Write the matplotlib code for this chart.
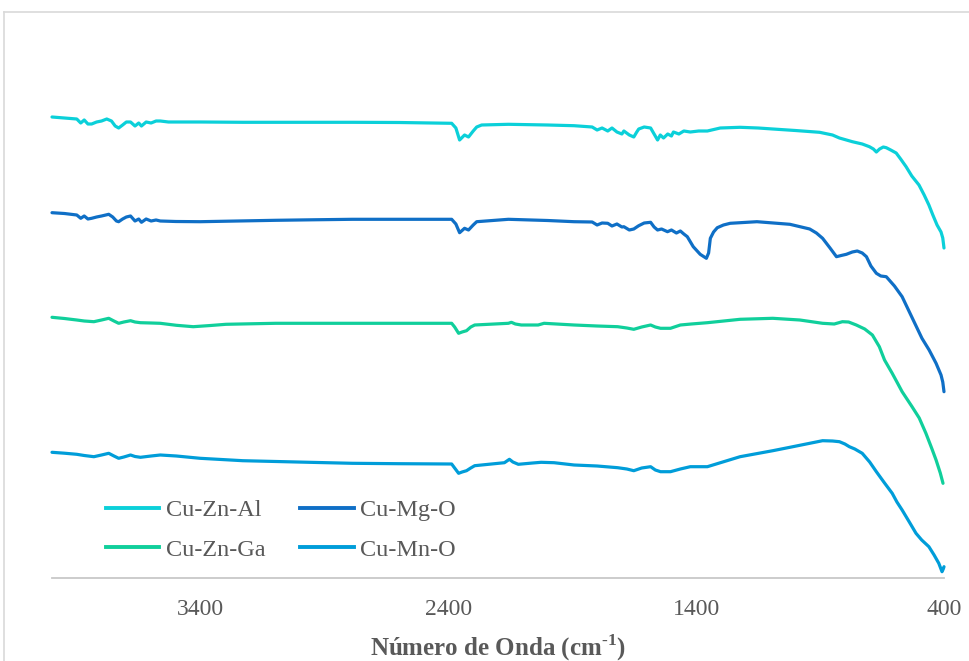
import matplotlib
matplotlib.use("Agg")
import matplotlib.pyplot as plt
from matplotlib.lines import Line2D

# FTIR spectra (arbitrary intensity units), wavenumber in cm-1
wn_znal = [4000, 3950, 3900, 3884, 3870, 3855, 3840, 3820, 3800, 3779, 3760, 3745, 3731, 3715,
           3700, 3683, 3665, 3650, 3639, 3620, 3600, 3580, 3563, 3530, 3498, 3400, 3230, 3000,
           2788, 2600, 2387, 2370, 2355, 2335, 2319, 2300, 2286, 2266, 2158, 2000, 1893, 1820,
           1800, 1780, 1757, 1740, 1720, 1700, 1692, 1670, 1652, 1640, 1632, 1610, 1584, 1570,
           1556, 1545, 1532, 1515, 1500, 1492, 1470, 1450, 1424, 1390, 1355, 1303, 1223, 1150,
           1091, 1000, 902, 850, 822, 770, 730, 701, 685, 673, 660, 645, 633, 615, 593, 575,
           553, 530, 501, 480, 461, 445, 428, 412, 405, 400]
y_znal = [461, 460, 459, 455, 458, 454, 454, 456, 457, 459, 457, 452, 450, 453,
          456, 456, 452, 455, 452, 456, 455, 457, 457, 456, 456, 456, 455.7, 455.7,
          455.7, 455.5, 454.7, 450, 438, 443, 441, 447, 451, 453, 453.7, 453, 452.3, 451,
          448, 450, 447, 450, 446, 444, 447, 443, 441, 446, 449, 451, 450, 444,
          438, 443, 440, 444, 442, 446, 444, 447, 446, 447, 447, 450, 450.7, 450,
          449, 447.5, 445.7, 443, 440, 436.3, 434, 431.3, 429, 426, 429, 431, 430.3, 428, 425, 419,
          411.3, 402, 393, 383, 373, 363, 353, 346, 340, 330]

wn_mgo = [4000, 3950, 3900, 3884, 3870, 3855, 3840, 3820, 3800, 3771, 3755, 3740, 3731, 3715,
          3700, 3683, 3665, 3650, 3639, 3620, 3600, 3580, 3563, 3500, 3402, 3250, 3097, 2950,
          2788, 2600, 2387, 2370, 2355, 2335, 2319, 2300, 2286, 2158, 2000, 1893, 1820, 1800,
          1780, 1757, 1740, 1720, 1700, 1692, 1670, 1652, 1640, 1632, 1610, 1584, 1570, 1556,
          1540, 1516, 1500, 1480, 1464, 1450, 1436, 1412, 1384, 1359, 1350, 1343, 1330, 1315,
          1290, 1263, 1155, 1022, 942, 915, 890, 860, 834, 815, 794, 770, 750, 730, 713, 695,
          673, 655, 633, 600, 569, 530, 489, 460, 432, 412, 405, 400]
y_mgo = [365.3, 364.5, 363, 359.7, 362, 359, 359.7, 361, 362, 363.7, 361, 357, 356.3, 359,
         361, 362, 357, 359, 355.7, 359, 357, 358, 357, 356.5, 356.3, 357, 357.7, 358.2,
         358.7, 358.7, 358.7, 354, 345.3, 349.7, 348, 353, 356.3, 358.7, 357.5, 356.3, 356, 353,
         355, 354.7, 352, 354, 351, 351.3, 348, 349, 351, 352.3, 355, 355.7, 351, 348,
         349, 346.3, 348, 345, 347, 344, 341.3, 331.3, 323.7, 319.7, 325, 339.7, 346, 350.3,
         353, 354.7, 356.3, 353.7, 349, 345, 339.7, 330, 321.3, 322.5, 323.7, 326, 327, 325, 321.3, 312,
         304.7, 302, 301.3, 292, 281.3, 261, 239.7, 228, 214.7, 203, 196, 186.3]

wn_znga = [4000, 3950, 3900, 3870, 3831, 3800, 3771, 3750, 3731, 3710, 3683, 3665, 3643, 3600,
           3563, 3498, 3430, 3360, 3298, 3200, 3097, 2950, 2788, 2600, 2387, 2375, 2359, 2345,
           2327, 2310, 2294, 2158, 2146, 2130, 2106, 2038, 2014, 1893, 1800, 1717, 1680, 1652,
           1620, 1584, 1565, 1544, 1504, 1464, 1420, 1355, 1223, 1091, 982, 890, 843, 810,
           785, 754, 720, 689, 661, 640, 609, 590, 569, 529, 500, 473, 450, 432, 415, 404]
y_znga = [260.7, 259.5, 258, 257, 256.3, 258, 259.7, 257, 254.7, 256, 257.3, 256, 255.3, 255,
          254.7, 252.7, 251.3, 252.5, 253.7, 254.2, 254.7, 254.7, 254.7, 254.7, 254.7, 251, 244.7, 246,
          247.3, 251, 253, 254.7, 255.7, 254, 253, 253, 254.7, 253, 252, 251.3, 250, 248.7,
          251, 253, 251, 249.7, 249.7, 253, 254, 255.3, 258.7, 259.7, 258, 254.7, 254, 256.3,
          256, 253, 249, 243, 231.3, 218, 204.7, 196, 186.3, 171.3, 160, 144.7, 130, 118, 105, 94.7]

wn_mno = [4000, 3950, 3900, 3870, 3831, 3800, 3771, 3750, 3731, 3710, 3683, 3665, 3643, 3600,
          3563, 3498, 3402, 3230, 2961, 2788, 2600, 2387, 2375, 2359, 2345, 2327, 2310, 2294,
          2174, 2154, 2140, 2118, 2060, 2026, 1974, 1893, 1800, 1717, 1680, 1652, 1620, 1584,
          1565, 1544, 1504, 1464, 1424, 1355, 1223, 1091, 1022, 890, 850, 822, 800, 782,
          760, 730, 700, 673, 640, 609, 590, 569, 540, 513, 490, 461, 440, 421, 408, 403, 400]
y_mno = [125.7, 124.8, 123.7, 122.5, 121.3, 123, 124.7, 122, 119.7, 121, 123, 121.5, 120.7, 122,
         123, 122, 119.7, 117.3, 115.7, 114.7, 114.3, 114, 110, 104.7, 106, 107.3, 110, 112.3,
         115.3, 118.7, 116, 113.7, 115, 115.7, 115.3, 113, 112, 110.3, 109, 107.3, 110, 111.3,
         108, 106.3, 106.3, 109, 111.3, 111.3, 121.3, 127.3, 130.7, 137.3, 137, 136.3, 134, 131.3,
         129, 124.7, 116, 106.3, 95, 84.7, 76, 68, 56, 44.7, 38, 31.3, 23, 14.7, 6.3, 9, 11.3]

series = [
    ("Cu-Zn-Al", wn_znal, y_znal, "#0BD0D9"),
    ("Cu-Mg-O", wn_mgo, y_mgo, "#0F6FC6"),
    ("Cu-Zn-Ga", wn_znga, y_znga, "#10CF9B"),
    ("Cu-Mn-O", wn_mno, y_mno, "#009DD9"),
]
xticks = [3400, 2400, 1400, 400]

plt.rcParams["font.family"] = ["Liberation Serif", "DejaVu Serif"]
plt.rcParams["mathtext.fontset"] = "custom"
plt.rcParams["mathtext.rm"] = "Liberation Serif:bold"
plt.rcParams["mathtext.bf"] = "Liberation Serif:bold"

fig = plt.figure(figsize=(9.7, 6.61), dpi=100)
ax = fig.add_axes([52 / 970, 1 - 578 / 661, 892 / 970, 545 / 661])

for name, x, y, c in series:
    ax.plot(x, y, color=c, lw=2.3, label=name, solid_joinstyle="round",
            solid_capstyle="round", clip_on=False)

ax.set_xlim(4000, 400)
ax.set_ylim(0, 545)
ax.set_xticks(xticks)
ax.set_xticklabels([str(t) for t in xticks])
ax.set_yticks([])
for s in ("left", "right", "top"):
    ax.spines[s].set_visible(False)
ax.spines["bottom"].set_color("#C8C8C8")
ax.spines["bottom"].set_linewidth(1.3)
ax.tick_params(axis="x", length=0, pad=15, labelsize=17, labelcolor="#595959")
ax.set_xlabel(r"Número de Onda (cm$^{\text{-}1}$)", fontsize=18, fontweight="bold",
              color="#595959", labelpad=9)

# legend laid out row-wise: fill order goes down columns
order = [0, 2, 1, 3]
handles = [Line2D([], [], color=series[i][3], lw=2.8) for i in order]
labels = [series[i][0] for i in order]
leg = fig.legend(handles, labels, ncol=2, loc="lower left",
                 bbox_to_anchor=(106 / 970, 1 - 561 / 661), bbox_transform=fig.transFigure,
                 frameon=False, fontsize=17.5, handlelength=2.2, handletextpad=0.25,
                 columnspacing=1.45, labelspacing=0.72, borderpad=0, borderaxespad=0)
for t in leg.get_texts():
    t.set_color("#595959")

# outer chart frame
fig.add_artist(Line2D([4.5 / 970, 4.5 / 970], [0, 1 - 11.5 / 661], transform=fig.transFigure,
                      color="#D9D9D9", lw=1.2))
fig.add_artist(Line2D([4.5 / 970, 1], [1 - 11.5 / 661, 1 - 11.5 / 661], transform=fig.transFigure,
                      color="#D9D9D9", lw=1.2))

fig.savefig("out.png", dpi=100)
